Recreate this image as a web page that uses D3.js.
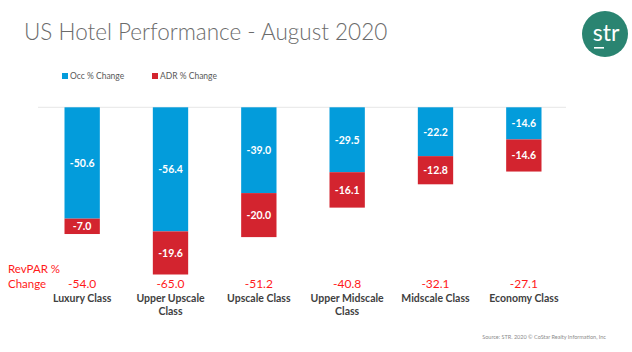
<!DOCTYPE html>
<html>
<head>
<meta charset="utf-8">
<script src="https://cdn.jsdelivr.net/npm/d3@7"></script>
<style>
  body { margin: 0; background: #fff; }
  svg { display: block; font-family: Lato, "Open Sans", sans-serif; }
</style>
</head>
<body>
<div id="chart"></div>
<script>
// chart values
const categories = ["Luxury Class", "Upper Upscale Class", "Upscale Class", "Upper Midscale Class", "Midscale Class", "Economy Class"];
const labelLines = [["Luxury Class"], ["Upper Upscale", "Class"], ["Upscale Class"], ["Upper Midscale", "Class"], ["Midscale Class"], ["Economy Class"]];
const occChange = [-50.6, -56.4, -39.0, -29.5, -22.2, -14.6];
const adrChange = [-7.0, -19.6, -20.0, -16.1, -12.8, -14.6];
const revparChange = [-54.0, -65.0, -51.2, -40.8, -32.1, -27.1];
const seriesNames = ["Occ % Change", "ADR % Change"];

const width = 632, height = 352;
const blue = "#039cdb", red = "#d3242f";

const svg = d3.select("#chart").append("svg")
    .attr("width", width)
    .attr("height", height);

// title
svg.append("text")
    .attr("x", 24).attr("y", 40)
    .attr("font-size", 22.5)
    .attr("font-weight", 300)
    .attr("fill", "#6b6b6b")
    .text("US Hotel Performance - August 2020");

// logo
svg.append("circle").attr("cx", 605).attr("cy", 34).attr("r", 23).attr("fill", "#2a8471");
svg.append("text").attr("x", 606).attr("y", 41)
    .attr("text-anchor", "middle").attr("font-size", 23)
    .attr("fill", "#fff").text("str");
svg.append("rect").attr("x", 594).attr("y", 47).attr("width", 10).attr("height", 1.6).attr("fill", "#fff");

// scales
let x = d3.scaleBand()
    .domain(categories)
    .range([38, 568])
    .paddingInner(0.6)
    .paddingOuter(0.3);

let y = d3.scaleLinear()
    .domain([-80, 0])
    .range([283.3, 107.3]);

// legend
const legend = svg.append("g").attr("transform", "translate(62,76)");
seriesNames.forEach((name, i) => {
    let g = legend.append("g").attr("transform", `translate(${i * 90},0)`);
    g.append("rect").attr("x", 0).attr("y", -3).attr("width", 6).attr("height", 6)
        .attr("fill", i === 0 ? blue : red);
    g.append("text").attr("x", 8).attr("y", 3)
        .attr("font-size", 8.5).attr("fill", "#595959").text(name);
});

// zero line
svg.append("line")
    .attr("x1", 38).attr("x2", 566)
    .attr("y1", y(0)).attr("y2", y(0))
    .attr("stroke", "#e6e6e6").attr("stroke-width", 1);

const data = categories.map((c, i) => ({ cat: c, occ: occChange[i], adr: adrChange[i], rev: revparChange[i], lines: labelLines[i] }));

// occ bars
svg.selectAll(".occ")
    .data(data)
    .enter()
    .append("rect")
    .attr("class", "occ")
    .attr("x", d => x(d.cat))
    .attr("y", y(0))
    .attr("width", x.bandwidth())
    .attr("height", d => y(d.occ) - y(0))
    .attr("fill", blue);

// adr bars stacked below
svg.selectAll(".adr")
    .data(data)
    .enter()
    .append("rect")
    .attr("class", "adr")
    .attr("x", d => x(d.cat))
    .attr("y", d => y(d.occ))
    .attr("width", x.bandwidth())
    .attr("height", d => y(d.occ + d.adr) - y(d.occ))
    .attr("fill", red);

// value labels
svg.selectAll(".occLabel")
    .data(data)
    .enter()
    .append("text")
    .attr("x", d => x(d.cat) + x.bandwidth() / 2)
    .attr("y", d => (y(0) + y(d.occ)) / 2 + 4)
    .attr("text-anchor", "middle")
    .attr("font-size", 10.5).attr("font-weight", 700)
    .attr("fill", "#fff")
    .text(d => d.occ.toFixed(1));

svg.selectAll(".adrLabel")
    .data(data)
    .enter()
    .append("text")
    .attr("x", d => x(d.cat) + x.bandwidth() / 2)
    .attr("y", d => (y(d.occ) + y(d.occ + d.adr)) / 2 + 4)
    .attr("text-anchor", "middle")
    .attr("font-size", 10.5).attr("font-weight", 700)
    .attr("fill", "#fff")
    .text(d => d.adr.toFixed(1));

// RevPAR row
svg.append("text").attr("x", 8).attr("y", 273)
    .attr("font-size", 11.5).attr("fill", "#ff1a1a").text("RevPAR %");
svg.append("text").attr("x", 8).attr("y", 288)
    .attr("font-size", 11.5).attr("fill", "#ff1a1a").text("Change");

svg.selectAll(".rev")
    .data(data)
    .enter()
    .append("text")
    .attr("x", d => x(d.cat) + x.bandwidth() / 2)
    .attr("y", 288)
    .attr("text-anchor", "middle")
    .attr("font-size", 12).attr("fill", "#ff1a1a")
    .text(d => d.rev.toFixed(1));

// category labels
let cats = svg.selectAll(".cat")
    .data(data)
    .enter()
    .append("text")
    .attr("x", d => x(d.cat) + x.bandwidth() / 2)
    .attr("y", 302)
    .attr("text-anchor", "middle")
    .attr("font-size", 10.5).attr("font-weight", 700)
    .attr("fill", "#3f3f3f");
cats.selectAll("tspan")
    .data(d => d.lines.map(l => ({ l, cx: x(d.cat) + x.bandwidth() / 2 })))
    .enter()
    .append("tspan")
    .attr("x", d => d.cx)
    .attr("dy", (d, i) => i === 0 ? 0 : 13)
    .text(d => d.l);

// source
svg.append("text").attr("x", 606).attr("y", 339)
    .attr("text-anchor", "end")
    .attr("font-size", 5.5).attr("fill", "#8c8c8c")
    .text("Source: STR. 2020 \u00a9 CoStar Realty Information, Inc");
</script>
</body>
</html>
